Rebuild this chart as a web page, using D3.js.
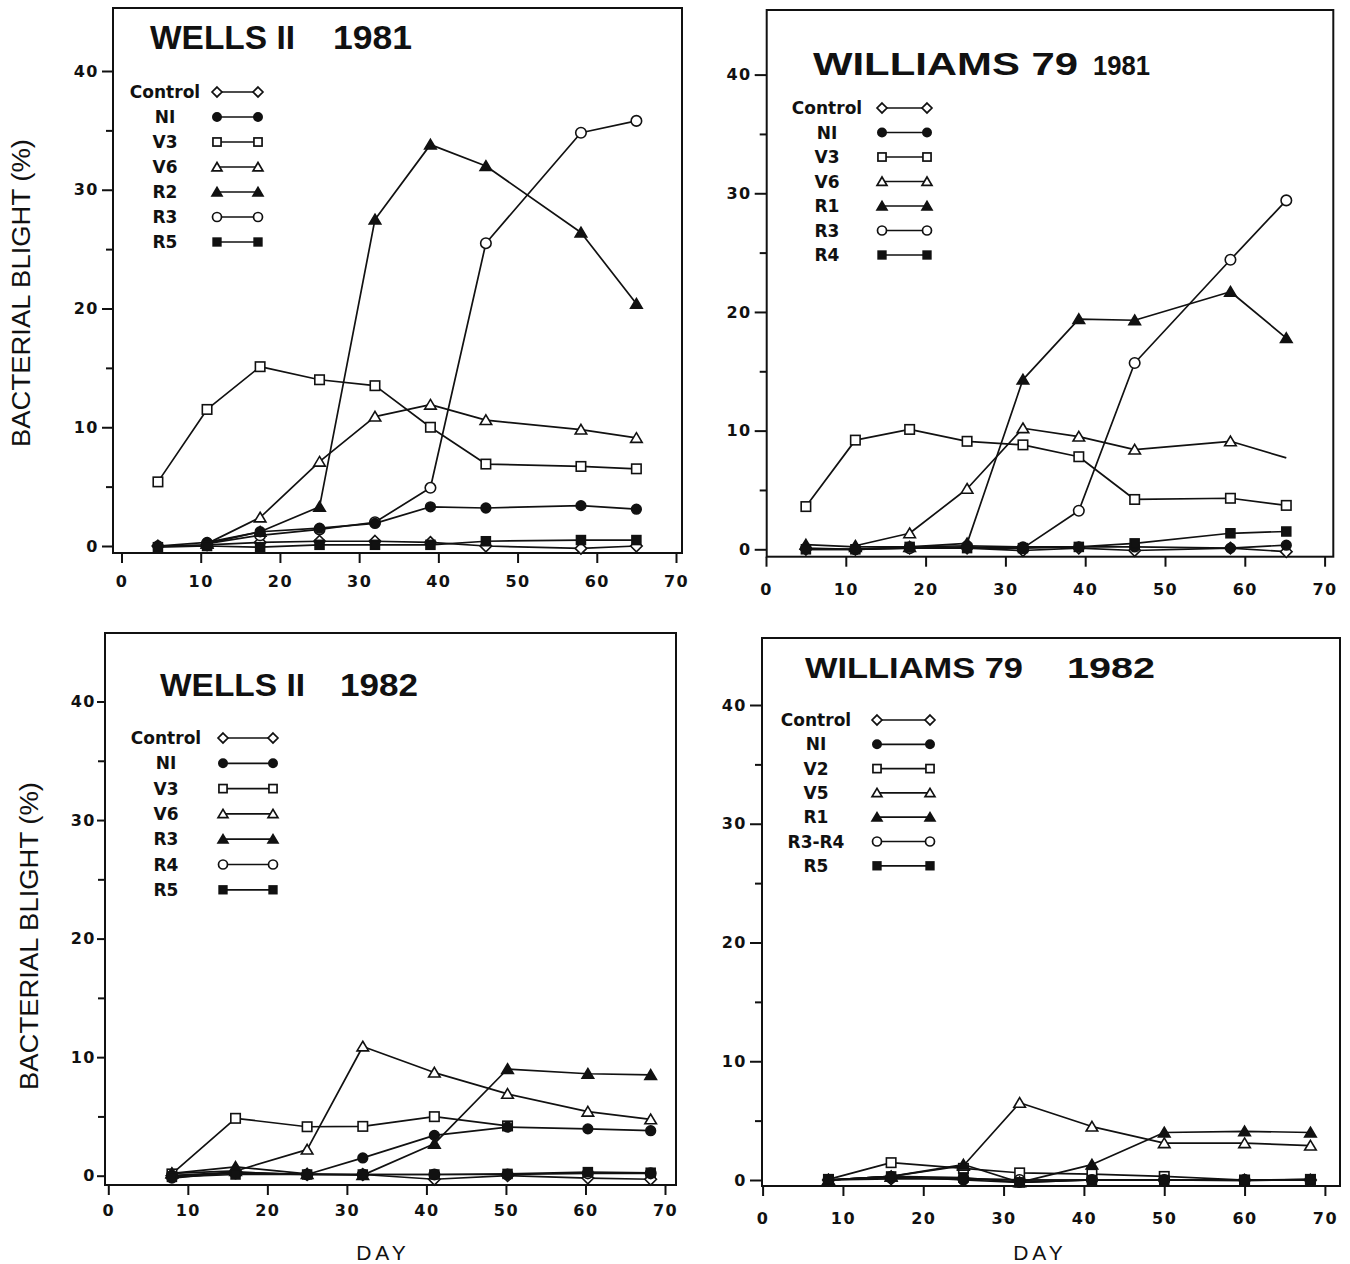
<!DOCTYPE html>
<html>
<head>
<meta charset="utf-8">
<script src="https://cdn.jsdelivr.net/npm/d3@7"></script>
<style>
  body { margin: 0; background: #fff; }
  svg { display: block; }
</style>
</head>
<body>
<svg id="chart" width="1350" height="1264"></svg>
<script>
// ---- data (day, % bacterial blight) ----
const wells81Days = [4.6, 10.8, 17.5, 25, 32, 39, 46, 58, 65]
const wells81Labels = ['Control', 'NI', 'V3', 'V6', 'R2', 'R3', 'R5']
const wells81Control = [0, 0.1, 0.3, 0.4, 0.4, 0.3, 0.0, -0.2, 0.0]
const wells81N1 = [0, 0.3, 1.2, 1.5, 1.9, 3.3, 3.2, 3.4, 3.1]
const wells81V3 = [5.4, 11.5, 15.1, 14.0, 13.5, 10.0, 6.9, 6.7, 6.5]
const wells81V6 = [null, 0.2, 2.4, 7.1, 10.9, 11.9, 10.6, 9.8, 9.1]
const wells81R2 = [null, 0.2, 1.2, 3.3, 27.5, 33.8, 32.0, 26.4, 20.4]
const wells81R3 = [null, 0.2, 0.9, 1.4, 2.0, 4.9, 25.5, 34.8, 35.8]
const wells81R5 = [-0.1, 0, -0.1, 0.1, 0.1, 0.1, 0.4, 0.5, 0.5]

const williams81Days = [5, 11.2, 18, 25.2, 32.2, 39.2, 46.2, 58.2, 65.2]
const williams81Labels = ['Control', 'NI', 'V3', 'V6', 'R1', 'R3', 'R4']
const williams81Control = [0, 0, 0.1, 0.1, -0.1, 0.1, -0.1, 0.1, -0.2]
const williams81N1 = [0.1, 0, 0.2, 0.3, 0.2, 0.2, 0.2, 0.1, 0.35]
const williams81V3 = [3.6, 9.2, 10.1, 9.1, 8.8, 7.8, 4.2, 4.3, 3.7]
const williams81V6 = [null, 0.3, 1.35, 5.1, 10.2, 9.5, 8.4, 9.1, 7.7]
const williams81R1 = [0.4, 0.2, 0.2, 0.5, 14.3, 19.4, 19.3, 21.7, 17.8]
const williams81R3 = [null, 0, 0.1, 0.2, 0.1, 3.25, 15.7, 24.4, 29.4]
const williams81R4 = [0, 0, 0.2, 0.1, 0.1, 0.2, 0.5, 1.35, 1.5]
const williams81NoMarker = [[3, 8]]   // V6, last point drawn without symbol

const wells82Days = [8, 16, 25, 32, 41, 50.2, 60.3, 68.2]
const wells82Labels = ['Control', 'NI', 'V3', 'V6', 'R3', 'R4', 'R5']
const wells82Control = [0, 0.3, 0.1, 0.1, -0.3, 0, -0.2, -0.3]
const wells82N1 = [-0.2, 0.3, 0.1, 1.5, 3.4, 4.1, 3.95, 3.8]
const wells82V3 = [0.15, 4.84, 4.13, 4.16, 4.98, 4.2, null, null]
const wells82V6 = [0.2, 0.4, 2.2, 10.9, 8.7, 6.9, 5.4, 4.75]
const wells82R3 = [0.2, 0.75, 0.15, 0.05, 2.7, 9.0, 8.6, 8.5]
const wells82R4 = [0, 0.2, 0.1, 0.1, 0.1, 0.1, 0.2, 0.2]
const wells82R5 = [-0.1, 0.1, 0.1, 0.1, 0.1, 0.15, 0.3, 0.25]

const williams82Days = [8.2, 16, 25, 32, 41, 50, 60, 68.2]
const williams82Labels = ['Control', 'NI', 'V2', 'V5', 'R1', 'R3-R4', 'R5']
const williams82Control = [0, 0.1, 0.1, 0, 0, 0, 0, 0]
const williams82N1 = [0, 0.3, 0.0, -0.2, 0.0, 0.0, 0.0, 0.0]
const williams82V2 = [0.05, 1.46, 0.98, 0.6, 0.5, 0.3, 0, 0.05]
const williams82V5 = [0, 0.3, 1.2, 6.5, 4.5, 3.1, 3.1, 2.9]
const williams82R1 = [0, 0.3, 1.3, -0.2, 1.3, 4.0, 4.1, 4.0]
const williams82R3R4 = [0, 0.2, 0.1, 0, 0, 0, 0, 0]
const williams82R5 = [0, 0.3, 0.2, -0.2, 0.0, 0.0, -0.05, 0.05]

const xTicks = [0, 10, 20, 30, 40, 50, 60, 70]
const yTicks = [0, 10, 20, 30, 40]
const yMinorTicks = [5, 15, 25, 35]

// legend order == symbol order
const markerKinds = ['diamond', 'dot', 'square', 'triangle', 'triangleFilled', 'circle', 'squareFilled']

// ---- layout of the four boxes ----
const panels = [
  {
    days: wells81Days, labels: wells81Labels,
    values: [wells81Control, wells81N1, wells81V3, wells81V6, wells81R2, wells81R3, wells81R5],
    noMarker: [],
    box: [113, 8, 682, 553], xr: [121.5, 676], yr: [546, 71],
    tickMajor: 11, yPad: 3, xPad: 13,
    title: [['WELLS II', 150, 145, 34], ['1981', 333, 79, 34]], titleY: 49,
    legY: 92, legStep: 25, legX: 165, sym: [217, 258],
    yLabel: [21, 293], dayLabel: null
  },
  {
    days: williams81Days, labels: williams81Labels,
    values: [williams81Control, williams81N1, williams81V3, williams81V6, williams81R1, williams81R3, williams81R4],
    noMarker: williams81NoMarker,
    box: [766.7, 10, 1333.3, 556.7], xr: [766, 1324.6], yr: [549.3, 74.6],
    tickMajor: 12, yPad: 3, xPad: 17,
    title: [['WILLIAMS 79', 813, 265, 31], ['1981', 1093, 57, 28]], titleY: 75,
    legY: 108, legStep: 24.5, legX: 827, sym: [882, 927],
    yLabel: null, dayLabel: null
  },
  {
    days: wells82Days, labels: wells82Labels,
    values: [wells82Control, wells82N1, wells82V3, wells82V6, wells82R3, wells82R4, wells82R5],
    noMarker: [],
    box: [105, 633, 676, 1185], xr: [108.3, 665], yr: [1175.7, 701.5],
    tickMajor: 8, yPad: 1, xPad: 10,
    title: [['WELLS II', 160, 145, 31], ['1982', 340, 78, 31]], titleY: 696,
    legY: 738, legStep: 25.3, legX: 166, sym: [223, 273],
    yLabel: [29, 936], dayLabel: [383, 1252]
  },
  {
    days: williams82Days, labels: williams82Labels,
    values: [williams82Control, williams82N1, williams82V2, williams82V5, williams82R1, williams82R3R4, williams82R5],
    noMarker: [],
    box: [762, 638, 1340, 1186], xr: [762.6, 1324.9], yr: [1180, 705],
    tickMajor: 12, yPad: 3, xPad: 17,
    title: [['WILLIAMS 79', 805, 218, 30], ['1982', 1067, 88, 30]], titleY: 678,
    legY: 720, legStep: 24.3, legX: 816, sym: [877, 930],
    yLabel: null, dayLabel: [1040, 1252]
  }
]

const svg = d3.select('#chart')
const ink = '#111'

function drawMarker(g, kind, cx, cy, s, sw) {
  const open = ['diamond', 'square', 'triangle', 'circle'].includes(kind)
  const fill = open ? '#fff' : ink
  let el
  if (kind === 'dot' || kind === 'circle') {
    el = g.append('circle').attr('cx', cx).attr('cy', cy).attr('r', kind === 'dot' ? s * 0.46 : s * 0.5)
  } else if (kind === 'square' || kind === 'squareFilled') {
    const w = kind === 'square' ? s * 0.9 : s * 0.85
    el = g.append('rect').attr('x', cx - w / 2).attr('y', cy - w / 2).attr('width', w).attr('height', w)
  } else if (kind === 'diamond') {
    const h = s * 0.55
    el = g.append('path').attr('d', `M${cx},${cy - h}L${cx + h},${cy}L${cx},${cy + h}L${cx - h},${cy}Z`)
  } else {
    const w = s * 0.55
    el = g.append('path').attr('d', `M${cx},${cy - s * 0.5}L${cx + w},${cy + s * 0.42}L${cx - w},${cy + s * 0.42}Z`)
  }
  el.attr('fill', fill).attr('stroke', ink).attr('stroke-width', sw)
}

function drawPanel(p) {
  const [left, top, right, bottom] = p.box
  const x = d3.scaleLinear().domain([0, 70]).range(p.xr)
  const y = d3.scaleLinear().domain([0, 40]).range(p.yr)
  const g = svg.append('g')

  g.append('rect')
    .attr('x', left).attr('y', top)
    .attr('width', right - left).attr('height', bottom - top)
    .attr('fill', 'none').attr('stroke', ink).attr('stroke-width', 2)

  const xAxis = g.append('g')
    .attr('transform', `translate(0,${bottom})`)
    .call(d3.axisBottom(x).tickValues(xTicks).tickSize(10).tickPadding(p.xPad))
  const yAxis = g.append('g')
    .attr('transform', `translate(${left},0)`)
    .call(d3.axisLeft(y).tickValues(yTicks).tickSize(p.tickMajor).tickPadding(p.yPad))
  const yMinor = g.append('g')
    .attr('transform', `translate(${left},0)`)
    .call(d3.axisLeft(y).tickValues(yMinorTicks).tickSize(7).tickFormat(''))

  ;[xAxis, yAxis, yMinor].forEach(a => {
    a.select('.domain').remove()
    a.selectAll('line').attr('stroke', ink).attr('stroke-width', 2)
    a.selectAll('text')
      .attr('fill', ink)
      .style('font-family', '"DejaVu Sans", sans-serif')
      .style('font-weight', 'bold')
      .style('font-size', '16px')
      .style('letter-spacing', '1.5px')
  })

  // title
  p.title.forEach(([txt, tx, len, size]) => {
    g.append('text')
      .attr('x', tx).attr('y', p.titleY)
      .attr('textLength', len).attr('lengthAdjust', 'spacingAndGlyphs')
      .style('font-family', '"Liberation Sans", Arial, sans-serif')
      .style('font-weight', 'bold')
      .style('font-size', size + 'px')
      .attr('fill', ink)
      .text(txt)
  })

  // legend
  p.labels.forEach((name, i) => {
    const ly = p.legY + i * p.legStep
    g.append('text')
      .attr('x', p.legX).attr('y', ly).attr('dy', '0.36em')
      .attr('text-anchor', 'middle')
      .style('font-family', '"DejaVu Sans", sans-serif')
      .style('font-weight', 'bold')
      .style('font-size', '17px')
      .attr('fill', ink)
      .text(name)
    g.append('line')
      .attr('x1', p.sym[0]).attr('x2', p.sym[1])
      .attr('y1', ly).attr('y2', ly)
      .attr('stroke', ink).attr('stroke-width', 1.7)
    drawMarker(g, markerKinds[i], p.sym[0], ly, 9, 1.7)
    drawMarker(g, markerKinds[i], p.sym[1], ly, 9, 1.7)
  })

  // series lines
  const line = d3.line()
    .defined(d => d[1] !== null)
    .x(d => x(d[0]))
    .y(d => y(d[1]))
  p.values.forEach(vals => {
    const pts = vals.map((v, j) => [p.days[j], v])
    g.append('path')
      .attr('d', line(pts))
      .attr('fill', 'none')
      .attr('stroke', ink)
      .attr('stroke-width', 1.7)
      .attr('stroke-linejoin', 'round')
  })

  // series markers: open ones first, filled on top
  const order = [0, 2, 3, 5, 1, 4, 6]
  order.forEach(si => {
    p.values[si].forEach((v, j) => {
      if (v === null) return
      if (p.noMarker.some(([a, b]) => a === si && b === j)) return
      drawMarker(g, markerKinds[si], x(p.days[j]), y(v), 10.5, 1.6)
    })
  })

  if (p.yLabel) {
    g.append('text')
      .attr('transform', `translate(${p.yLabel[0]},${p.yLabel[1]}) rotate(-90)`)
      .attr('text-anchor', 'middle').attr('dy', '0.36em')
      .attr('textLength', 308).attr('lengthAdjust', 'spacingAndGlyphs')
      .style('font-family', '"Liberation Sans", Arial, sans-serif')
      .style('font-size', '25px')
      .attr('fill', ink)
      .text('BACTERIAL BLIGHT (%)')
  }
  if (p.dayLabel) {
    g.append('text')
      .attr('x', p.dayLabel[0]).attr('y', p.dayLabel[1]).attr('dy', '0.36em')
      .attr('text-anchor', 'middle')
      .style('font-family', '"Liberation Sans", Arial, sans-serif')
      .style('font-size', '21px')
      .style('letter-spacing', '4px')
      .attr('fill', ink)
      .text('DAY')
  }
}

panels.forEach(drawPanel)
</script>
</body>
</html>
